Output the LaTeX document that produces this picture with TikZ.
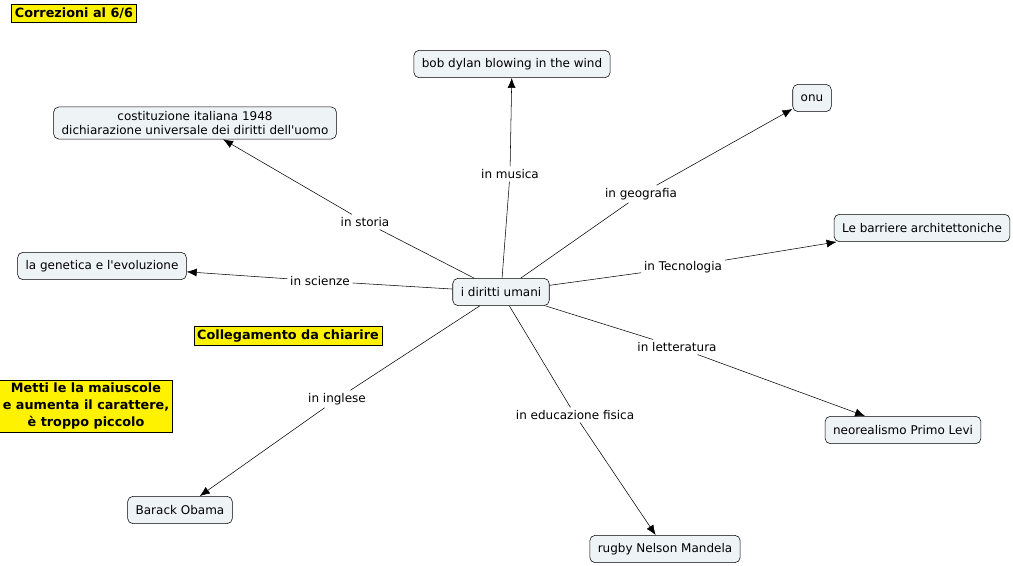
\documentclass[tikz,border=0pt]{standalone}
\usepackage{fontspec}
\setmainfont{DejaVu Sans}
\usetikzlibrary{arrows.meta}

\tikzset{
  concept/.style={draw,rounded corners=4pt,fill=boxfill,inner xsep=6pt,minimum height=20.5pt,font=\fontsize{9}{10.5}\selectfont,align=center},
  linklbl/.style={inner sep=2pt,font=\fontsize{9}{10.5}\selectfont},
  note/.style={draw,fill=yellow,inner xsep=2.5pt,inner ysep=2.5pt,font=\bfseries\fontsize{9.6}{12.5}\selectfont,align=center},
  link/.style={-{Latex[length=7.5pt,width=6pt]}}
}
\definecolor{boxfill}{HTML}{EEF3F5}

\begin{document}
\begin{tikzpicture}[x=0.75pt,y=-0.75pt]
                \useasboundingbox (0,0) rectangle (1013,566);
                \foreach \x/\y/\n/\t in {501/292/dir/i diritti umani, 512/64/dylan/bob dylan blowing in the wind, 812/98/onu/onu, 922/228/barr/Le barriere architettoniche, 102/266/gen/la genetica e l\textquotesingle evoluzione, 903/430/neo/neorealismo Primo Levi, 180/510/obama/Barack Obama, 665/549/rugby/rugby Nelson Mandela}
                \node[concept] (\n) at (\x,\y) {\t};
                \node[concept] (cost) at (195,123) {costituzione italiana 1948\\dichiarazione universale dei diritti dell\textquotesingle uomo};
                \foreach \x/\y/\n/\t in {510/174/lmus/in musica, 365/222/lsto/in storia, 641/194/lgeo/in geografia, 320/281/lsci/in scienze, 683/267/ltec/in Tecnologia, 677/347/llet/in letteratura, 337/399/ling/in inglese, 575/415/ledu/in educazione fisica}
                \node[linklbl] (\n) at (\x,\y) {\t};
                \foreach \l/\t in {lmus/dylan, lsto/cost, lgeo/onu, lsci/gen, ltec/barr, llet/neo, ling/obama, ledu/rugby}
                {\draw (dir) -- (\l);
                \draw[link] (\l) -- (\t);}
                % note gialle
                \node[note] (corr) at (74,13) {Correzioni al 6/6};
                \node[note] (coll) at (288,336) {Collegamento da chiarire};
                \node[note] (metti) at (86,406) {Metti le la maiuscole\\e aumenta il carattere,\\è troppo piccolo};

            \end{tikzpicture}
\end{document}
